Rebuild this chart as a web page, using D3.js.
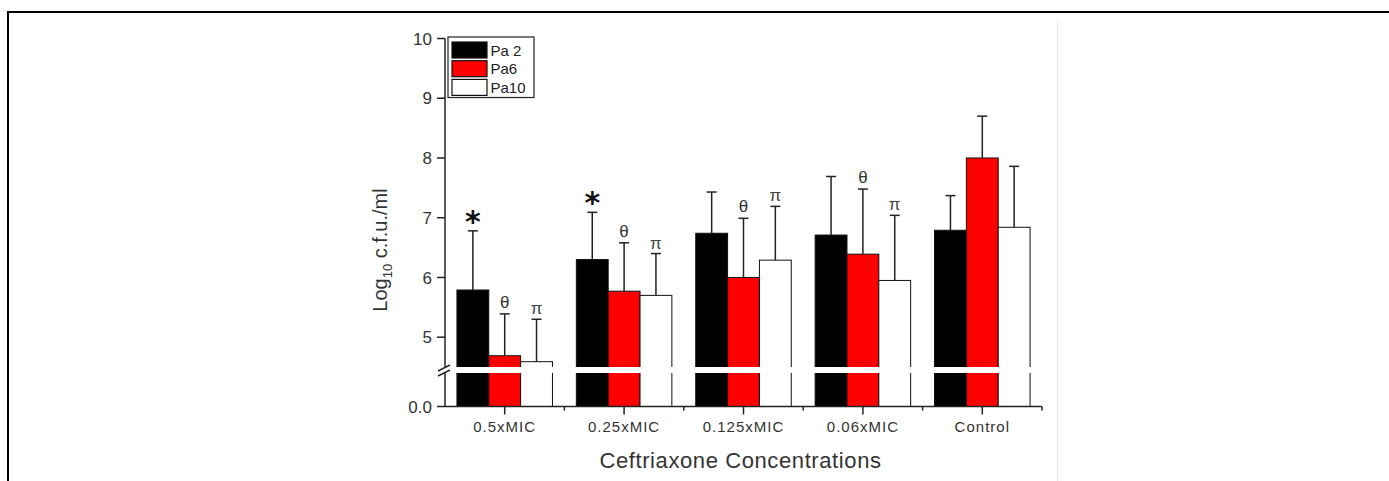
<!DOCTYPE html>
<html>
<head>
<meta charset="utf-8">
<script src="https://cdn.jsdelivr.net/npm/d3@7"></script>
<style>
  html, body { margin: 0; padding: 0; background: #fff; }
  svg { display: block; }
  text { font-family: "Liberation Sans", Arial, sans-serif; }
</style>
</head>
<body>
<svg id="chart" width="1389" height="481"></svg>
<script>
// ---- data ----
const categories = ["0.5xMIC", "0.25xMIC", "0.125xMIC", "0.06xMIC", "Control"];
const seriesNames = ["Pa 2", "Pa6", "Pa10"];
const seriesColors = ["#000000", "#ff0000", "#ffffff"];
const pa2 = [5.79, 6.30, 6.74, 6.71, 6.79];
const pa2Err = [0.99, 0.79, 0.69, 0.98, 0.58];
const pa6 = [4.69, 5.77, 6.00, 6.39, 8.00];
const pa6Err = [0.70, 0.81, 0.99, 1.09, 0.70];
const pa10 = [4.59, 5.70, 6.29, 5.95, 6.84];
const pa10Err = [0.71, 0.70, 0.90, 1.09, 1.02];
const pa2Marks = ["*", "*", "", "", ""];
const pa6Marks = ["θ", "θ", "θ", "θ", ""];
const pa10Marks = ["π", "π", "π", "π", ""];
const upperTicks = [5, 6, 7, 8, 9, 10];
const lowerTicks = [0];
const lowerTickLabels = ["0.0"];
const xTitle = "Ceftriaxone Concentrations";

const series = [
  { name: seriesNames[0], color: seriesColors[0], values: pa2, err: pa2Err, marks: pa2Marks },
  { name: seriesNames[1], color: seriesColors[1], values: pa6, err: pa6Err, marks: pa6Marks },
  { name: seriesNames[2], color: seriesColors[2], values: pa10, err: pa10Err, marks: pa10Marks }
];

// ---- layout ----
const svg = d3.select("#chart");
const left = 445, right = 1042;
const axisY = 406.5;
const gapTop = 367, gapBot = 373;

// frame (cropped figure border)
svg.append("line").attr("x1", 7).attr("x2", 1389).attr("y1", 12).attr("y2", 12)
  .attr("stroke", "#000").attr("stroke-width", 2);
svg.append("line").attr("x1", 8).attr("x2", 8).attr("y1", 11).attr("y2", 481)
  .attr("stroke", "#000").attr("stroke-width", 2);
svg.append("line").attr("x1", 1057.5).attr("x2", 1057.5).attr("y1", 20).attr("y2", 481)
  .attr("stroke", "#e8e8e8").attr("stroke-width", 1);

// scales
const x0 = d3.scaleBand().domain(categories).range([left, right]).paddingInner(0.2).paddingOuter(0.1);
const x1 = d3.scaleBand().domain(seriesNames).range([0, x0.bandwidth()]);
const yUp = d3.scaleLinear().domain([5, 10]).range([337.2, 38.5]);
const yLow = d3.scaleLinear().domain([0, 1]).range([axisY, gapBot - 20]);

const g = svg.append("g");

// bars
series.forEach(s => {
  const sg = g.append("g");
  sg.selectAll("rect").data(categories).join("rect")
    .attr("x", c => x0(c) + x1(s.name))
    .attr("width", x1.bandwidth())
    .attr("y", (c, i) => yUp(s.values[i]))
    .attr("height", (c, i) => yLow(0) - yUp(s.values[i]))
    .attr("fill", s.color)
    .attr("stroke", "#111")
    .attr("stroke-width", 1);
});

// axis break gap across bars
g.append("rect").attr("x", left + 2).attr("width", right - left - 4)
  .attr("y", gapTop).attr("height", gapBot - gapTop).attr("fill", "#fff");

// error bars
const capW = 10;
series.forEach(s => {
  const eg = g.append("g").attr("stroke", "#222").attr("stroke-width", 1.5);
  categories.forEach((c, i) => {
    const cx = x0(c) + x1(s.name) + x1.bandwidth() / 2;
    const yTop = yUp(s.values[i] + s.err[i]);
    eg.append("line").attr("x1", cx).attr("x2", cx)
      .attr("y1", yUp(s.values[i])).attr("y2", yTop);
    eg.append("line").attr("x1", cx - capW / 2).attr("x2", cx + capW / 2)
      .attr("y1", yTop).attr("y2", yTop);
  });
});

// significance marks
series.forEach(s => {
  categories.forEach((c, i) => {
    const m = s.marks[i];
    if (!m) return;
    const cx = x0(c) + x1(s.name) + x1.bandwidth() / 2;
    const yTop = yUp(s.values[i] + s.err[i]);
    const t = g.append("text").attr("x", cx).attr("text-anchor", "middle").text(m);
    if (m === "*") {
      t.attr("y", yTop + 1).attr("font-size", 30).attr("font-weight", "bold").attr("fill", "#111")
        .style("font-family", "'DejaVu Sans', sans-serif");
    } else if (m === "θ") {
      t.attr("y", yTop - 6).attr("font-size", 17).attr("fill", "#333");
    } else {
      t.attr("y", yTop - 5).attr("font-size", 17).attr("fill", "#444");
    }
  });
});

// y axis (upper)
const axisColor = "#222";
const ya = svg.append("g").attr("stroke", axisColor).attr("stroke-width", 1.5);
ya.append("line").attr("x1", left).attr("x2", left).attr("y1", yUp(10)).attr("y2", gapTop);
ya.append("line").attr("x1", left).attr("x2", left).attr("y1", gapBot).attr("y2", axisY);
ya.selectAll(".tk").data(upperTicks).join("line")
  .attr("x1", left - 8).attr("x2", left).attr("y1", d => yUp(d)).attr("y2", d => yUp(d));
ya.selectAll(".tk0").data(lowerTicks).join("line")
  .attr("x1", left - 8).attr("x2", left).attr("y1", d => yLow(d)).attr("y2", d => yLow(d));
// break marks
[0, 5].forEach(o => {
  ya.append("line").attr("x1", left - 7).attr("x2", left + 5)
    .attr("y1", gapTop + 4 + o).attr("y2", gapTop - 2 + o);
});
const yl = svg.append("g").attr("font-size", 17).attr("fill", "#333").attr("text-anchor", "end");
yl.selectAll("text.u").data(upperTicks).join("text")
  .attr("x", left - 13).attr("y", d => yUp(d)).attr("dy", "0.36em").text(d => d);
yl.selectAll("text.l").data(lowerTicks).join("text")
  .attr("x", left - 13).attr("y", d => yLow(d)).attr("dy", "0.36em").text((d, i) => lowerTickLabels[i]);

// x axis
const xa = svg.append("g").attr("stroke", axisColor).attr("stroke-width", 1.5);
xa.append("line").attr("x1", left).attr("x2", right).attr("y1", axisY).attr("y2", axisY);
xa.selectAll("line.maj").data(categories).join("line")
  .attr("x1", c => x0(c) + x0.bandwidth() / 2).attr("x2", c => x0(c) + x0.bandwidth() / 2)
  .attr("y1", axisY).attr("y2", axisY + 8);
const bounds = categories.map(c => x0(c) - x0.step() * x0.paddingInner() / 2).slice(1).concat([right]);
xa.selectAll("line.min").data(bounds).join("line")
  .attr("x1", d => d).attr("x2", d => d).attr("y1", axisY).attr("y2", axisY + 4);

svg.append("g").selectAll("text").data(categories).join("text")
  .attr("x", c => x0(c) + x0.bandwidth() / 2)
  .attr("y", 432)
  .attr("text-anchor", "middle")
  .attr("font-size", 15)
  .attr("letter-spacing", "1px")
  .attr("fill", "#333")
  .text(c => c);

// axis titles
svg.append("text").attr("x", (left + right) / 2 - 3).attr("y", 468)
  .attr("text-anchor", "middle").attr("font-size", 22).attr("letter-spacing", "0.6px")
  .attr("fill", "#333").text(xTitle);

const yt = svg.append("text")
  .attr("transform", "translate(387,250) rotate(-90)")
  .attr("text-anchor", "middle").attr("font-size", 20).attr("fill", "#333");
yt.append("tspan").text("Log");
yt.append("tspan").attr("font-size", 13).attr("dy", 5).text("10");
yt.append("tspan").attr("dy", -5).text(" c.f.u./ml");

// legend
const lg = svg.append("g");
lg.append("rect").attr("x", 448).attr("y", 37).attr("width", 86).attr("height", 60.5)
  .attr("fill", "#fff").attr("stroke", "#222").attr("stroke-width", 1.2);
series.forEach((s, i) => {
  const ry = 42 + i * 18.7;
  lg.append("rect").attr("x", 452).attr("y", ry).attr("width", 35).attr("height", 16)
    .attr("fill", s.color).attr("stroke", "#111").attr("stroke-width", 1.2);
  lg.append("text").attr("x", 490.5).attr("y", ry + 13.5).attr("font-size", 15)
    .attr("fill", "#222").text(s.name);
});
</script>
</body>
</html>
